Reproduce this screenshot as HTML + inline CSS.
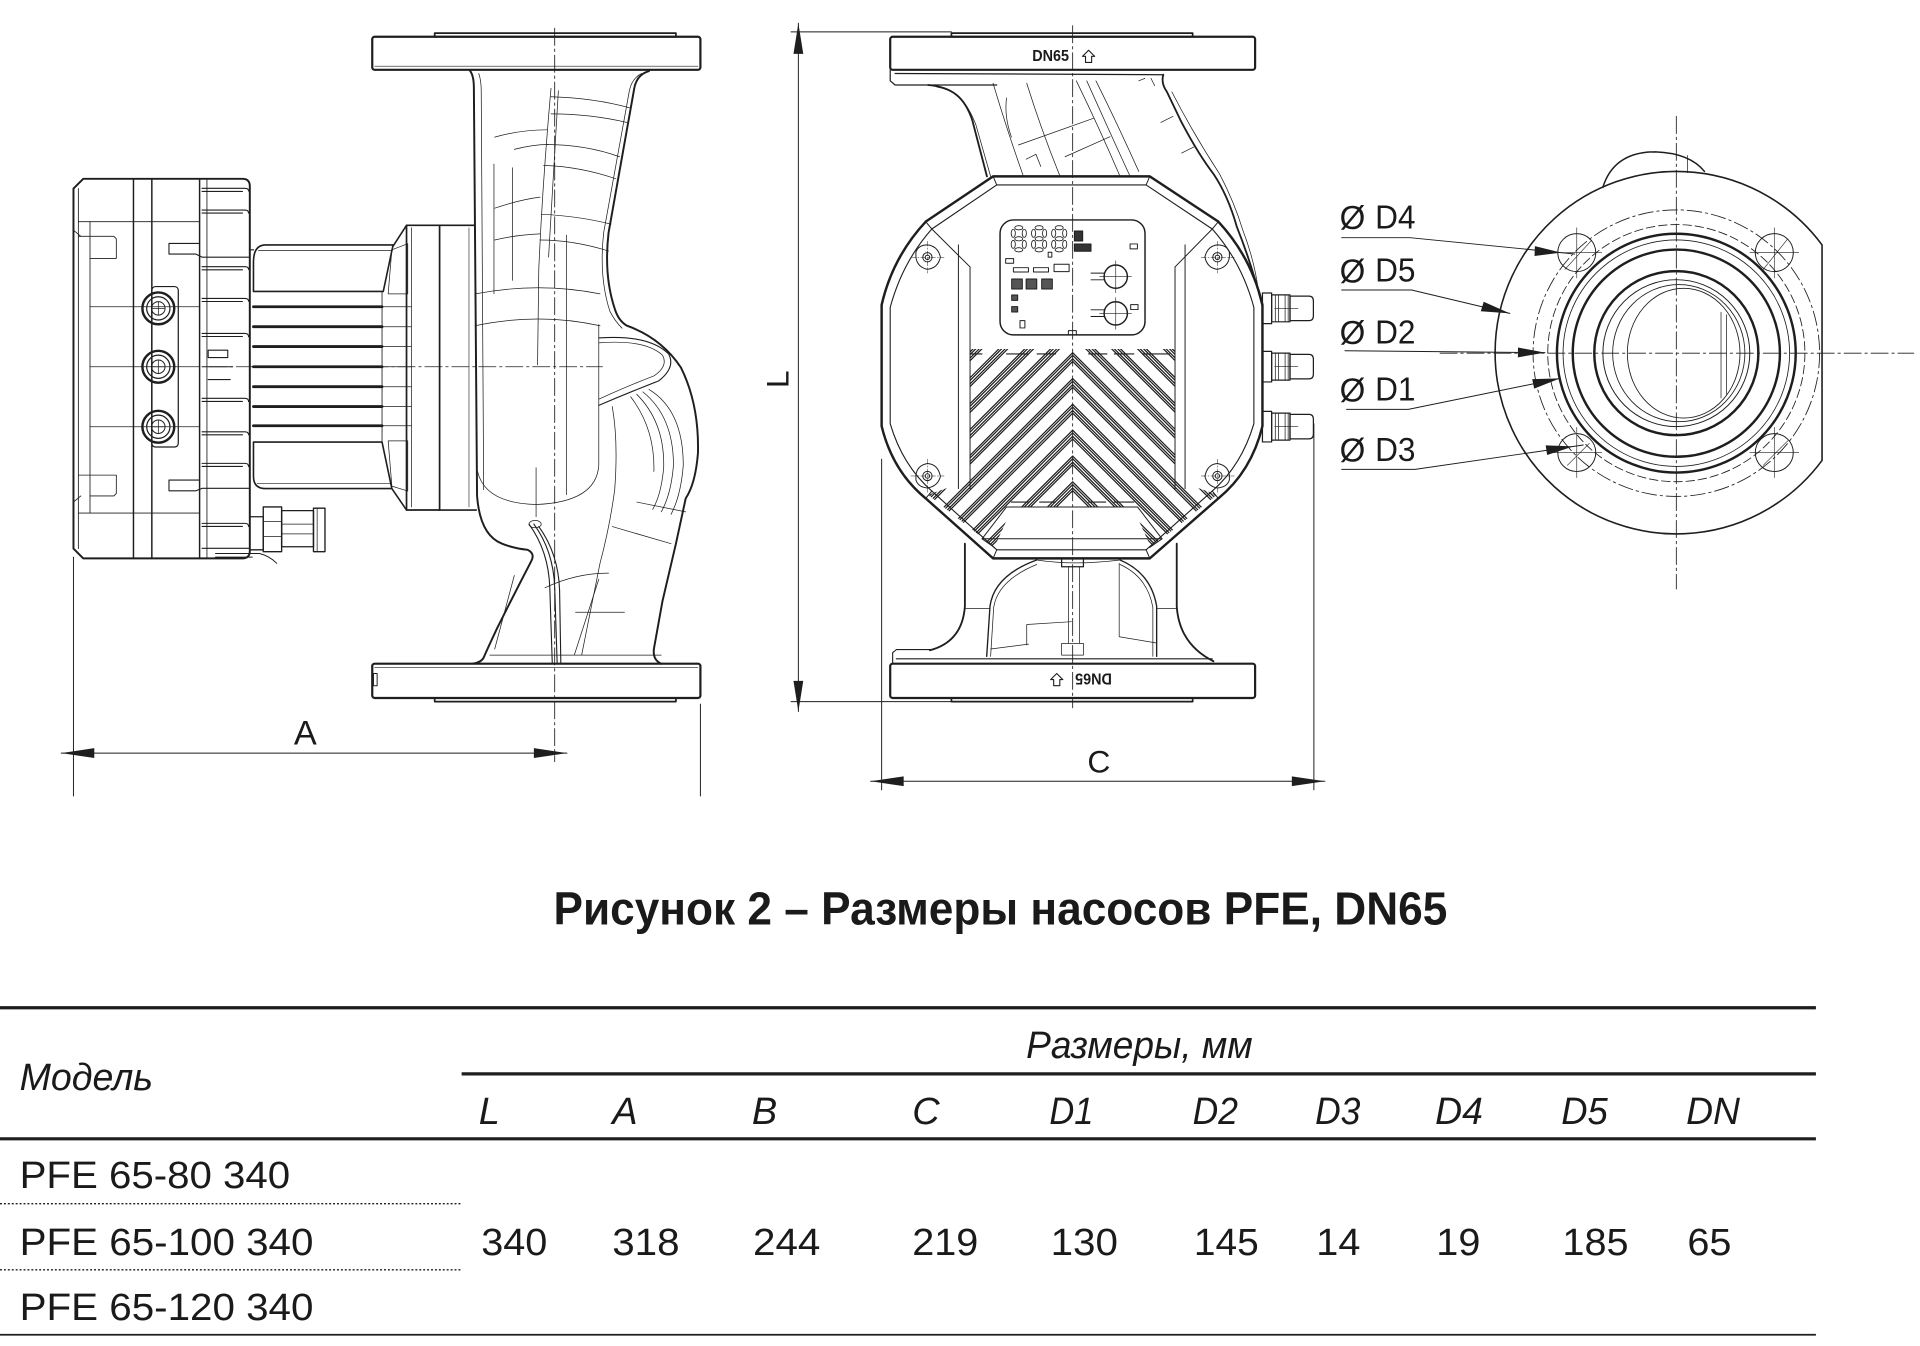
<!DOCTYPE html>
<html><head><meta charset="utf-8">
<style>
html,body{margin:0;padding:0;background:#fff;}
svg{display:block;}
text{font-family:"Liberation Sans","DejaVu Sans",sans-serif;fill:#1a1a1a;stroke:none;}
</style></head><body>
<svg xmlns="http://www.w3.org/2000/svg" width="1920" height="1346" viewBox="0 0 1568 1099.2">
<rect width="1568" height="1099.2" fill="#fff"/>
<defs>
<clipPath id="chev"><polygon points="792,285 960,285 960,392 994,404 940,447 925,414 827,414 812,447 758,404 792,392"/></clipPath>
</defs>
<g fill="none" stroke="#1e1e1e" stroke-linejoin="round" stroke-linecap="round">

<!-- ================= LEFT VIEW ================= -->
<rect x="304" y="30" width="268" height="27" rx="2" stroke-width="1.8"/>
<line x1="306" y1="54" x2="570" y2="54" stroke-width="0.5"/>
<rect x="355" y="27" width="197" height="3" stroke-width="1.4"/>
<rect x="304" y="542" width="268" height="28" rx="2" stroke-width="1.8"/>
<line x1="306" y1="545" x2="570" y2="545" stroke-width="0.5"/>
<rect x="355" y="570" width="197" height="3" stroke-width="1.4"/>
<rect x="305" y="550" width="3" height="10" stroke-width="0.8"/>

<path d="M384,58 Q387,62 387,72 L389.6,405 Q392,437 410,444 Q420,448 431,449 Q437,452 434,458 Q420,485 406,513 Q398,530 395,537 Q393,541 386,542" stroke-width="1.6"/>
<path d="M530,58 Q520,61 518,72 L497,190 Q493,225 502,252 Q505,262 512,266 Q540,276 556,300 Q571,330 570,370 Q568,395 560,407 L552,444 L541,491 L534,530 Q533,539 540,542" stroke-width="1.6"/>
<g stroke-width="0.6">
<path d="M391,60 Q393,66 393,74 L395,400"/>
<path d="M524,60 Q516,64 514,74 L493,190 Q489,226 498,254 Q502,262 508,268"/>
<path d="M450,72 Q443,150 440,220 L439,298"/>
<path d="M456,74 Q452,140 448,210"/>
<line x1="403.4" y1="134" x2="403.4" y2="240"/>
<line x1="418.5" y1="137" x2="418.5" y2="229"/>
<line x1="462.7" y1="192" x2="462.7" y2="404"/>
<path d="M404,112 Q425,106 447,106"/>
<path d="M420,122 Q435,118 448,118"/>
<path d="M404,170 Q425,163 441,161"/>
<path d="M404,196 Q420,192 441,191"/>
<path d="M388,240 Q440,230 490,240"/>
<path d="M388,266 Q440,255 490,266"/>
<path d="M450,79 Q485,80 514,88"/>
<path d="M450,93 Q482,93 512,100"/>
<path d="M446,118 Q478,118 506,128"/>
<path d="M444,135 Q474,136 503,146"/>
<path d="M442,175 Q470,176 499,183"/>
<path d="M441,196 Q468,196 497,205"/>
<path d="M489,276 Q530,273 546,289 Q552,300 538,311 Q515,320 489,331" stroke-width="0.9"/>
<path d="M489,280 Q527,277 541,290 Q546,299 534,307 Q513,315 489,326"/>
<path d="M489,265 L489,380 Q487,410 438,412 Q396,411 390,385"/>
<path d="M437.8,382 L437.8,422"/>
<path d="M530,318 Q558,335 558,380 Q556,405 548,420"/>
<path d="M525,320 Q550,340 550,380 Q548,404 540,418"/>
<path d="M520,322 Q543,345 542,382 Q540,404 533,416"/>
<path d="M515,324 Q535,350 534,385"/>
<path d="M500,332 Q505,360 502,400 Q498,430 490,460 L475,535"/>
<path d="M520,410 L560,418"/>
<path d="M500,430 L548,444"/>
<path d="M489,473 L469,535"/>
<path d="M445,480 Q470,468 497,468"/>
<path d="M420,470 Q412,500 404,530"/>
<path d="M432,428 Q448,450 449,480 L451,541" stroke-width="0.9"/>
<path d="M436,428 Q452,450 453,480 L455,541" stroke-width="0.9"/>
<path d="M440,430 Q456,452 457,482 L458,541" stroke-width="0.9"/>
<ellipse cx="437" cy="428" rx="5" ry="3"/>
<path d="M400,535 L540,535"/>
<path d="M470,500 L510,500"/>
</g>

<line x1="453" y1="23" x2="453" y2="622" stroke-width="0.7" stroke-dasharray="14,3,2,3"/>
<line x1="171" y1="299.5" x2="492" y2="299.5" stroke-width="0.7" stroke-dasharray="14,3,2,3"/>

<path d="M68,146 L198,146 Q204,146 204,152 L204,450 Q204,456 198,456 L68,456 L60,448 L60,154 Z" stroke-width="1.6"/>
<g stroke-width="0.7">
<line x1="64" y1="154" x2="64" y2="448"/>
<line x1="73.5" y1="181" x2="73.5" y2="419"/>
<line x1="64" y1="181" x2="163" y2="181"/>
<line x1="64" y1="419" x2="163" y2="419"/>
<line x1="73.5" y1="250.5" x2="163" y2="250.5"/>
<line x1="73.5" y1="299.5" x2="163" y2="299.5"/>
<line x1="73.5" y1="348.5" x2="163" y2="348.5"/>
<path d="M64,193 L93,193 L95,195 L95,211 L73.5,211"/>
<path d="M64,388 L73.5,388 M73.5,405 L93,405 L95,403 L95,388 L73.5,388"/>
<path d="M60,188 L66,193 M60,410 L66,405"/>
<line x1="169" y1="146" x2="169" y2="456"/>
</g>
<line x1="109" y1="146" x2="109" y2="456" stroke-width="1.2"/>
<line x1="124" y1="146" x2="124" y2="456" stroke-width="1.2"/>
<line x1="163" y1="146" x2="163" y2="456" stroke-width="1.2"/>
<rect x="124" y="234" width="21.6" height="131" rx="3" stroke-width="1"/>
<g>
<circle cx="129.3" cy="251.8" r="13" stroke-width="2"/><circle cx="129.3" cy="251.8" r="9.5" stroke-width="1"/><circle cx="129.3" cy="251.8" r="5.5" stroke-width="0.8"/>
<path d="M124,251.8 H134.6 M129.3,246.5 V257" stroke-width="0.6"/>
<circle cx="129.3" cy="299.5" r="13" stroke-width="2"/><circle cx="129.3" cy="299.5" r="9.5" stroke-width="1"/><circle cx="129.3" cy="299.5" r="5.5" stroke-width="0.8"/>
<path d="M124,299.5 H134.6 M129.3,294 V305" stroke-width="0.6"/>
<circle cx="129.3" cy="348.5" r="13" stroke-width="2"/><circle cx="129.3" cy="348.5" r="9.5" stroke-width="1"/><circle cx="129.3" cy="348.5" r="5.5" stroke-width="0.8"/>
<path d="M124,348.5 H134.6 M129.3,343 V354" stroke-width="0.6"/>
</g>
<g stroke-width="0.9">
<path d="M165,153.8 H200 Q203,153.8 203,156 M165,156.3 H198"/>
<path d="M165,171.5 H200 Q203,171.5 203,174 M165,174 H198"/>
<path d="M163,198.8 H138 V207.5 H160 L165,210 H203"/>
<path d="M165,217.8 H200 Q203,217.8 203,220 M165,220.3 H198"/>
<path d="M165,243.7 H200 Q203,243.7 203,246 M165,246.2 H198"/>
<path d="M165,272.3 H200 Q203,272.3 203,275 M165,274.8 H198"/>
<path d="M165,299.5 H190"/>
<path d="M165,325.3 H200 Q203,325.3 203,328 M165,327.8 H198"/>
<path d="M165,352.6 H200 Q203,352.6 203,355 M165,355.1 H198"/>
<path d="M165,378.4 H200 Q203,378.4 203,381 M165,380.9 H198"/>
<path d="M163,392 H138 V400.8 H160 L165,398.8 H203"/>
<path d="M165,427.4 H200 Q203,427.4 203,430 M165,429.9 H198"/>
<path d="M165,447.8 H203"/>
<path d="M170,286 H186 V292 H170 Z M170,310 H188"/>
</g>
<path d="M207,214 Q207,200 217,200 L321,200 L313,238 L207,238 Z" stroke-width="1.3"/>
<line x1="211" y1="204.5" x2="320" y2="204.5" stroke-width="0.6"/>
<path d="M207,361 L312,361 L320,399 L217,399 Q207,399 207,389 Z" stroke-width="1.3"/>
<line x1="210" y1="395" x2="319" y2="395" stroke-width="0.6"/>
<line x1="204" y1="204" x2="207" y2="204" stroke-width="1"/>
<line x1="312" y1="238" x2="312" y2="361" stroke-width="0.7"/>
<g stroke-width="2.3">
<line x1="207" y1="250.5" x2="312" y2="250.5"/>
<line x1="207" y1="266.8" x2="312" y2="266.8"/>
<line x1="207" y1="283" x2="312" y2="283"/>
<line x1="207" y1="299.5" x2="312" y2="299.5"/>
<line x1="207" y1="315.8" x2="312" y2="315.8"/>
<line x1="207" y1="332" x2="312" y2="332"/>
<line x1="207" y1="347.7" x2="312" y2="347.7"/>
</g>
<g stroke-width="0.6">
<line x1="312" y1="250.5" x2="336" y2="250.5"/>
<line x1="312" y1="266.8" x2="336" y2="266.8"/>
<line x1="312" y1="283" x2="336" y2="283"/>
<line x1="312" y1="299.5" x2="336" y2="299.5"/>
<line x1="312" y1="315.8" x2="336" y2="315.8"/>
<line x1="312" y1="332" x2="336" y2="332"/>
<line x1="312" y1="347.7" x2="336" y2="347.7"/>
<polygon points="320,204 333,199 333,240 317,240"/>
<polygon points="317,360 333,360 333,401 320,397"/>
</g>
<path d="M321,201 L332,184 M320,399 L332,416.5" stroke-width="1.3"/>
<rect x="332" y="184" width="27" height="232.5" stroke-width="1.4"/>
<line x1="336" y1="186" x2="336" y2="414" stroke-width="0.6"/>
<path d="M359,184 H387 M359,416.5 H389" stroke-width="1.3"/>
<line x1="383" y1="186" x2="383" y2="414" stroke-width="0.5"/>
<g stroke-width="1.1">
<rect x="204" y="422" width="11" height="27"/>
<rect x="215" y="414" width="15" height="36.5"/>
<rect x="230" y="417" width="26" height="29.5"/>
<rect x="256" y="415" width="9.4" height="35.5"/>
<path d="M215,426 H230 M215,438 H230 M230,428 H256 M230,436 H256 M259,415 V450.5" stroke-width="0.6"/>
<path d="M176,452 L212,452 Q220,454 226,460 M176,455 L206,455" stroke-width="0.8"/>
</g>

<g stroke-width="0.8">
<line x1="60" y1="455" x2="60" y2="650"/>
<line x1="572" y1="575" x2="572" y2="650"/>
<line x1="50" y1="615" x2="463" y2="615"/>
</g>
<polygon points="50,615 77,611 77,619" fill="#1e1e1e" stroke="none"/>
<polygon points="463,615 436,611 436,619" fill="#1e1e1e" stroke="none"/>

<!-- ================= MIDDLE VIEW ================= -->
<rect x="727" y="30" width="298" height="27" rx="2" stroke-width="1.8"/>
<rect x="777" y="27" width="197" height="3" stroke-width="1.4"/>
<rect x="727" y="542" width="298" height="28" rx="2" stroke-width="1.8"/>
<rect x="777" y="570" width="197" height="3" stroke-width="1.4"/>
<path d="M727,57 L727,66 L731,69.4 L814,69.4 M731,60 L950,61" stroke-width="1"/>
<path d="M758,69.4 C778,71 788,80 794,98 L806,144" stroke-width="1.5"/>
<path d="M765,71 C782,74 790,84 797,102 L809,144" stroke-width="0.6"/>
<path d="M950,61 Q948,68 953,75 L964,98 Q978,125 991,142 Q1003,160 1010,185 Q1022,215 1031,250" stroke-width="1.5"/>
<path d="M957,75 Q975,110 996,142 Q1008,165 1015,188 Q1025,214 1028,240" stroke-width="0.6"/>
<g stroke-width="0.6">
<path d="M811,68 Q822,105 835.8,144"/>
<path d="M838.5,68 Q850,105 865.7,144"/>
<path d="M879,66 Q898,105 914.7,144"/>
<path d="M887.5,66 Q905,105 922.9,144"/>
<path d="M895,66 Q912,100 930,140"/>
<path d="M831.7,118.4 L893,96.6"/>
<path d="M869.8,128 L906.5,111.6"/>
<path d="M838,130 L846,126 L850,136"/>
<path d="M822,80 Q820,95 826,112"/>
<path d="M948,100 L958,95 M965,125 L975,120"/>
<path d="M930,66 L935,64 M940,64 L943,70"/>
</g>
<path d="M788,444 L788,495 Q786,524 759.5,531" stroke-width="1.5"/>
<path d="M961,444 L961,495 Q963,526 991,540" stroke-width="1.5"/>
<path d="M729,541 L729,533 L732,530.5 L760,530.5 M732,538 L990,538" stroke-width="0.9"/>
<path d="M805.8,536 L808.5,495 Q812,470 846.6,457.3 M914.7,457.3 Q940,468 944.6,495 L944.6,536" stroke-width="1.1"/>
<path d="M809,536 L811.5,496 Q815,474 846.6,461 M914.7,461 Q937,471 941.5,496 L941.5,536" stroke-width="0.6"/>
<path d="M846.6,457.3 Q877,462 914.7,457.3" stroke-width="0.6"/>
<g stroke-width="0.6">
<path d="M788,496.8 H808.5 M944.6,496.8 H961"/>
<rect x="867" y="525.4" width="17.8" height="9.6"/>
<path d="M838.5,526.7 V510 L875,507.7"/>
<path d="M872.5,462.8 V525.4 M881.5,462.8 V525.4"/>
<path d="M914,460 V520 L944,525"/>
<path d="M809,530 L840,526"/>
</g>
<rect x="867" y="456" width="17.8" height="6.8" stroke-width="1"/>

<path d="M811,144 L939,144 L995,181 Q1022,210 1031,249 L1031,348 Q1022,385 995,407 L939,456 L811,456 L756,407 Q729,385 720,348 L720,249 Q729,210 756,181 Z" stroke-width="2"/>
<path d="M814,151 L936,151 L990,187 Q1014,214 1024,251 L1024,346 Q1014,380 990,401 L936,449 L814,449 L761,401 Q737,380 727,346 L727,251 Q737,214 761,187 Z" stroke-width="0.9"/>
<g stroke-width="0.8">
<line x1="782.7" y1="200" x2="782.7" y2="399"/>
<line x1="792.2" y1="218" x2="792.2" y2="399"/>
<line x1="959.6" y1="218" x2="959.6" y2="399"/>
<line x1="967.8" y1="200" x2="967.8" y2="399"/>
<path d="M761,187 L792.2,218 M990,187 L959.6,218"/>
<path d="M811,144 L814,151 M939,144 L936,151 M756,181 L761,187 M995,181 L990,187 M756,407 L761,401 M995,407 L990,401 M811,456 L814,449 M939,456 L936,449"/>
<path d="M822,414 L929,414 L949,440 L802,440 Z"/>
<path d="M802,440 L812,447 M949,440 L939,447"/>
</g>
<rect x="816.7" y="179.6" width="118.4" height="93.9" rx="11" stroke-width="1.2"/>
<path d="M872.5,273.5 V270 H879 V273.5" stroke-width="0.8"/>
<g stroke-width="0.7">
<g id="dg">
<ellipse cx="832" cy="186" rx="3.3" ry="1.7"/><ellipse cx="827.5" cy="190.5" rx="1.7" ry="3.3"/><ellipse cx="836.5" cy="190.5" rx="1.7" ry="3.3"/>
<ellipse cx="832" cy="195" rx="3.3" ry="1.7"/><ellipse cx="827.5" cy="199.5" rx="1.7" ry="3.3"/><ellipse cx="836.5" cy="199.5" rx="1.7" ry="3.3"/>
<ellipse cx="832" cy="204" rx="3.3" ry="1.7"/>
</g>
<use href="#dg" x="16.6"/><use href="#dg" x="33"/>
</g>
<g stroke-width="0.8">
<rect x="877.4" y="188.6" width="6.8" height="8.2" fill="#333"/>
<rect x="877.4" y="199.2" width="13.6" height="6" fill="#333"/>
<rect x="922.9" y="199.2" width="6" height="4"/>
<rect x="821.3" y="211.2" width="6.5" height="3.8"/>
<rect x="827.6" y="218.6" width="12.3" height="3.5"/>
<rect x="844" y="218.6" width="12.3" height="3.5"/>
<rect x="860.8" y="215.8" width="12.3" height="6"/>
<rect x="826.2" y="227.8" width="8.7" height="8.2" fill="#555"/>
<rect x="838" y="227.8" width="8.7" height="8.2" fill="#555"/>
<rect x="850.7" y="227.8" width="8.7" height="8.2" fill="#555"/>
<rect x="826.2" y="240.9" width="4.9" height="4.4" fill="#555"/>
<rect x="826.2" y="250.4" width="4.9" height="4.4" fill="#555"/>
<rect x="833" y="261.8" width="4" height="6"/>
<rect x="923.4" y="248.8" width="6" height="4"/>
<rect x="856" y="206" width="3" height="4"/>
</g>
<g>
<circle cx="911.2" cy="225.9" r="9.5" stroke-width="1.2"/>
<circle cx="911.2" cy="255.9" r="9.5" stroke-width="1.2"/>
<path d="M898,225.9 H924 M911.2,213 V239 M898,255.9 H924 M911.2,243 V269" stroke-width="0.5"/>
<path d="M891,223 H902 M891,228.5 H902 M891,253 H902 M891,258.5 H902" stroke-width="0.8"/>
</g>
<g stroke-width="0.8">
<path d="M748,206 Q750,200 757.4,200 Q766,201 768,210 Q766,219 757.4,220 Q749,218 748,210 Z"/>
<circle cx="757.4" cy="210.1" r="3.8"/><circle cx="757.4" cy="210.1" r="1.8"/>
<path d="M1004,206 Q1002,200 994.2,200 Q986,201 984,210 Q986,219 994.2,220 Q1003,218 1004,210 Z"/>
<circle cx="994.2" cy="210.1" r="3.8"/><circle cx="994.2" cy="210.1" r="1.8"/>
<path d="M748,392 Q750,398 757.4,398.5 Q766,397 768,389 Q766,379 757.4,378.5 Q749,380 748,388 Z"/>
<circle cx="757.4" cy="388.7" r="3.8"/><circle cx="757.4" cy="388.7" r="1.8"/>
<path d="M1004,392 Q1002,398 994.2,398.5 Q986,397 984,389 Q986,379 994.2,378.5 Q1003,380 1004,388 Z"/>
<circle cx="994.2" cy="388.7" r="3.8"/><circle cx="994.2" cy="388.7" r="1.8"/>
<path d="M744,210.1 H771 M757.4,197 V223 M981,210.1 H1008 M994.2,197 V223 M744,388.7 H771 M757.4,375 V402 M981,388.7 H1008 M994.2,375 V402" stroke-width="0.4" stroke-dasharray="4,1.5,1,1.5"/>
</g>
<g clip-path="url(#chev)" stroke-width="1">
<polyline points="716,342.5 876,182.5 1036,342.5"/><polyline points="716,344.7 876,184.7 1036,344.7"/><polyline points="716,347.5 876,187.5 1036,347.5"/><polyline points="716,349.7 876,189.7 1036,349.7"/>
<polyline points="716,363.6 876,203.6 1036,363.6"/><polyline points="716,365.8 876,205.8 1036,365.8"/><polyline points="716,368.6 876,208.6 1036,368.6"/><polyline points="716,370.8 876,210.8 1036,370.8"/>
<polyline points="716,384.7 876,224.7 1036,384.7"/><polyline points="716,386.9 876,226.9 1036,386.9"/><polyline points="716,389.7 876,229.7 1036,389.7"/><polyline points="716,391.9 876,231.9 1036,391.9"/>
<polyline points="716,405.8 876,245.8 1036,405.8"/><polyline points="716,408 876,248 1036,408"/><polyline points="716,410.8 876,250.8 1036,410.8"/><polyline points="716,413 876,253 1036,413"/>
<polyline points="716,426.9 876,266.9 1036,426.9"/><polyline points="716,429.1 876,269.1 1036,429.1"/><polyline points="716,431.9 876,271.9 1036,431.9"/><polyline points="716,434.1 876,274.1 1036,434.1"/>
<polyline points="716,448 876,288 1036,448"/><polyline points="716,450.2 876,290.2 1036,450.2"/><polyline points="716,453 876,293 1036,453"/><polyline points="716,455.2 876,295.2 1036,455.2"/>
<polyline points="716,469.1 876,309.1 1036,469.1"/><polyline points="716,471.3 876,311.3 1036,471.3"/><polyline points="716,474.1 876,314.1 1036,474.1"/><polyline points="716,476.3 876,316.3 1036,476.3"/>
<polyline points="716,490.2 876,330.2 1036,490.2"/><polyline points="716,492.4 876,332.4 1036,492.4"/><polyline points="716,495.2 876,335.2 1036,495.2"/><polyline points="716,497.4 876,337.4 1036,497.4"/>
<polyline points="716,511.3 876,351.3 1036,511.3"/><polyline points="716,513.5 876,353.5 1036,513.5"/><polyline points="716,516.3 876,356.3 1036,516.3"/><polyline points="716,518.5 876,358.5 1036,518.5"/>
<polyline points="716,532.4 876,372.4 1036,532.4"/><polyline points="716,534.6 876,374.6 1036,534.6"/><polyline points="716,537.4 876,377.4 1036,537.4"/><polyline points="716,539.6 876,379.6 1036,539.6"/>
<polyline points="716,553.5 876,393.5 1036,553.5"/><polyline points="716,555.7 876,395.7 1036,555.7"/><polyline points="716,558.5 876,398.5 1036,558.5"/><polyline points="716,560.7 876,400.7 1036,560.7"/>
</g>
<path d="M793,289 H802 M822,289 H840 M847,289 H862 M889,289 H904 M910,289 H926 M933,289 H955" stroke-width="0.9"/>
<path d="M826,410 H840 M849,410 H862 M889,410 H903 M910,410 H926" stroke-width="0.9"/>
<g id="gl" stroke-width="1">
<rect x="1031" y="239.3" width="7.5" height="25"/>
<rect x="1038.5" y="240.8" width="15" height="22"/>
<path d="M1041.5,240.8 V262.8 M1044,240.8 V262.8 M1049.5,240.8 V262.8 M1052,240.8 V262.8" stroke-width="0.6"/>
<path d="M1053.5,241.8 L1069,241.8 Q1072.6,241.8 1072.6,245.8 L1072.6,257.8 Q1072.6,261.8 1069,261.8 L1053.5,261.8 Z"/>
<path d="M1041,251.8 H1060" stroke-width="0.5"/>
</g>
<use href="#gl" y="47.6"/><use href="#gl" y="96.6"/>
<path d="M889,41 L894,46 L891.5,46 L891.5,51 L886.5,51 L886.5,46 L884,46 Z" stroke-width="0.9"/>
<g transform="rotate(180,876,555)">
<path d="M889,560 L894,555 L891.5,555 L891.5,550 L886.5,550 L886.5,555 L884,555 Z" stroke-width="0.9"/>
</g>
<line x1="876" y1="21" x2="876" y2="578" stroke-width="0.7" stroke-dasharray="14,3,2,3"/>
<g stroke-width="0.8">
<line x1="652" y1="19" x2="652" y2="581"/>
<line x1="646" y1="26" x2="777" y2="26"/>
<line x1="646" y1="573" x2="777" y2="573"/>
</g>
<polygon points="652,19 648,44 656,44" fill="#1e1e1e" stroke="none"/>
<polygon points="652,581 648,556 656,556" fill="#1e1e1e" stroke="none"/>
<g stroke-width="0.8">
<line x1="720" y1="375" x2="720" y2="645"/>
<line x1="1073" y1="346" x2="1073" y2="645"/>
<line x1="711" y1="638" x2="1082" y2="638"/>
</g>
<polygon points="711,638 738,634 738,642" fill="#1e1e1e" stroke="none"/>
<polygon points="1082,638 1055,634 1055,642" fill="#1e1e1e" stroke="none"/>

<!-- ================= RIGHT VIEW ================= -->
<path d="M1309,153 Q1318,124 1352,124 Q1380,125 1392,140" stroke-width="1.2"/>
<line x1="1378" y1="127" x2="1378" y2="141" stroke-width="0.6"/>
<path d="M1488,200 A148,148 0 1 0 1488,376 Z" stroke-width="1.3"/>
<circle cx="1369" cy="288.4" r="117" stroke-width="0.7" stroke-dasharray="12,3,2,3"/>
<circle cx="1369" cy="288.4" r="105" stroke-width="0.7" stroke-dasharray="7,3"/>
<circle cx="1369" cy="288.4" r="97.5" stroke-width="2"/>
<circle cx="1369" cy="288.4" r="92.5" stroke-width="0.7"/>
<circle cx="1369" cy="288.4" r="84.6" stroke-width="2"/>
<circle cx="1369" cy="288.4" r="67" stroke-width="2"/>
<circle cx="1369" cy="288.4" r="60" stroke-width="0.8"/>
<ellipse cx="1371" cy="288.4" rx="54" ry="56" stroke-width="0.7"/>
<ellipse cx="1375" cy="288.4" rx="46" ry="53" stroke-width="0.7"/>
<path d="M1405.5,255 V325 M1410,257 V322" stroke-width="0.6"/>
<g stroke-width="0.8">
<circle cx="1287.7" cy="206.3" r="15.5"/><circle cx="1449" cy="206.3" r="15.5"/>
<circle cx="1287.7" cy="369.6" r="15.5"/><circle cx="1449" cy="369.6" r="15.5"/>
</g>
<g stroke-width="0.5">
<path d="M1268,206.3 H1308 M1287.7,186 V227 M1429,206.3 H1469 M1449,186 V227 M1268,369.6 H1308 M1287.7,349 V390 M1429,369.6 H1469 M1449,349 V390"/>
<path d="M1278,220 L1300,196 M1440,220 L1460,195 M1280,380 L1298,362 M1440,380 L1460,360"/>
</g>
<line x1="1176" y1="288.4" x2="1563" y2="288.4" stroke-width="0.7" stroke-dasharray="14,3,2,3"/>
<line x1="1369" y1="95" x2="1369" y2="481" stroke-width="0.7" stroke-dasharray="14,3,2,3"/>
<g stroke-width="0.8">
<polyline points="1095.7,194.1 1151.5,194.1 1286,207.4"/>
<polyline points="1095.7,236.8 1152.8,236.8 1233,255.9"/>
<polyline points="1098.4,286.4 1261.7,288"/>
<polyline points="1099.7,334.3 1150.1,334.3 1274,309"/>
<polyline points="1095.7,383.3 1155.6,383.3 1293,363.4"/>
</g>
<g fill="#1e1e1e" stroke="none">
<polygon points="1275,206.3 1253.5,201 1253.2,209"/>
<polygon points="1233,255.9 1211.7,246.4 1209.3,254.2"/>
<polygon points="1261.7,288 1239.7,283.8 1239.6,291.8"/>
<polygon points="1274,309 1251.3,309.6 1252.9,317.4"/>
<polygon points="1285,364.5 1262.3,363.7 1263.5,371.6"/>
</g>

<!-- ================= TABLE ================= -->
<line x1="0" y1="823" x2="1483" y2="823" stroke-width="2.6" stroke-linecap="butt"/>
<line x1="377" y1="877" x2="1483" y2="877" stroke-width="2.6" stroke-linecap="butt"/>
<line x1="0" y1="930" x2="1483" y2="930" stroke-width="2.6" stroke-linecap="butt"/>
<line x1="0" y1="1090" x2="1483" y2="1090" stroke-width="1.4" stroke-linecap="butt"/>
<line x1="0" y1="983" x2="377" y2="983" stroke-width="1.2" stroke-dasharray="1.6,1.6" stroke-linecap="butt"/>
<line x1="0" y1="1037" x2="377" y2="1037" stroke-width="1.2" stroke-dasharray="1.6,1.6" stroke-linecap="butt"/>
</g>

<!-- ================= TEXT ================= -->
<text x="240" y="608" font-size="28">A</text>
<text x="888" y="631" font-size="26">C</text>
<text transform="translate(644,317) rotate(-90)" font-size="26">L</text>
<text x="843" y="50" font-size="12.5" font-weight="bold" textLength="30" lengthAdjust="spacingAndGlyphs">DN65</text>
<text transform="rotate(180,876,555)" x="844" y="560" font-size="12.5" font-weight="bold" textLength="30" lengthAdjust="spacingAndGlyphs">DN65</text>

<g font-size="27">
<text x="1094" y="187">Ø</text><text x="1123" y="186.5" textLength="33" lengthAdjust="spacingAndGlyphs">D4</text>
<text x="1094" y="230.5">Ø</text><text x="1123" y="230" textLength="33" lengthAdjust="spacingAndGlyphs">D5</text>
<text x="1094" y="281">Ø</text><text x="1123" y="280.4" textLength="33" lengthAdjust="spacingAndGlyphs">D2</text>
<text x="1094" y="328">Ø</text><text x="1123" y="327.2" textLength="33" lengthAdjust="spacingAndGlyphs">D1</text>
<text x="1094" y="377">Ø</text><text x="1123" y="376.5" textLength="33" lengthAdjust="spacingAndGlyphs">D3</text>
</g>

<text x="452" y="755" font-size="38" font-weight="bold" textLength="730" lengthAdjust="spacingAndGlyphs">Рисунок 2 – Размеры насосов PFE, DN65</text>

<g font-size="31" font-style="italic">
<text x="838" y="864" textLength="185" lengthAdjust="spacingAndGlyphs">Размеры, мм</text>
<text x="16" y="890" textLength="109" lengthAdjust="spacingAndGlyphs">Модель</text>
<text x="391" y="918">L</text>
<text x="500" y="918">A</text>
<text x="614" y="918">B</text>
<text x="745" y="918">C</text>
<text x="857" y="918" textLength="36" lengthAdjust="spacingAndGlyphs">D1</text>
<text x="974" y="918" textLength="37" lengthAdjust="spacingAndGlyphs">D2</text>
<text x="1074" y="918" textLength="37" lengthAdjust="spacingAndGlyphs">D3</text>
<text x="1172" y="918" textLength="39" lengthAdjust="spacingAndGlyphs">D4</text>
<text x="1275" y="918" textLength="38" lengthAdjust="spacingAndGlyphs">D5</text>
<text x="1377" y="918" textLength="44" lengthAdjust="spacingAndGlyphs">DN</text>
</g>
<g font-size="31">
<text x="16" y="970" textLength="221" lengthAdjust="spacingAndGlyphs">PFE 65-80 340</text>
<text x="16" y="1025" textLength="240" lengthAdjust="spacingAndGlyphs">PFE 65-100 340</text>
<text x="16" y="1078" textLength="240" lengthAdjust="spacingAndGlyphs">PFE 65-120 340</text>
<text x="393" y="1025" textLength="54" lengthAdjust="spacingAndGlyphs">340</text>
<text x="500" y="1025" textLength="55" lengthAdjust="spacingAndGlyphs">318</text>
<text x="615" y="1025" textLength="55" lengthAdjust="spacingAndGlyphs">244</text>
<text x="745" y="1025" textLength="54" lengthAdjust="spacingAndGlyphs">219</text>
<text x="858" y="1025" textLength="55" lengthAdjust="spacingAndGlyphs">130</text>
<text x="975" y="1025" textLength="53" lengthAdjust="spacingAndGlyphs">145</text>
<text x="1075" y="1025" textLength="36" lengthAdjust="spacingAndGlyphs">14</text>
<text x="1173" y="1025" textLength="36" lengthAdjust="spacingAndGlyphs">19</text>
<text x="1276" y="1025" textLength="54" lengthAdjust="spacingAndGlyphs">185</text>
<text x="1378" y="1025" textLength="36" lengthAdjust="spacingAndGlyphs">65</text>
</g>
</svg>
</body></html>
